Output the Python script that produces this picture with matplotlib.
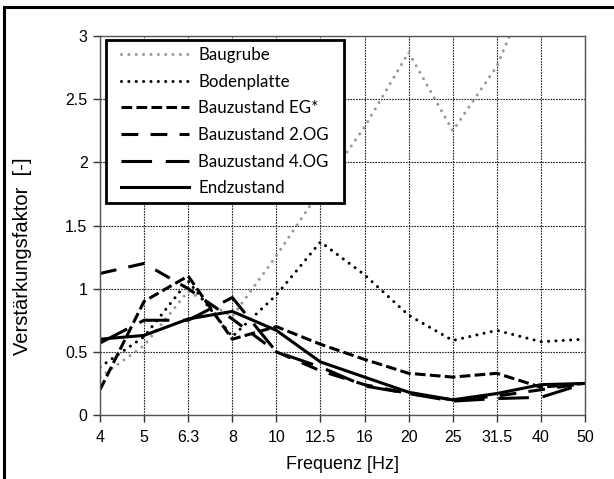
import matplotlib
matplotlib.use("Agg")
import matplotlib.pyplot as plt
from matplotlib.patches import Rectangle

# Frequenzbaender (kategorisch, gleichabstaendig)
freq_labels = ["4", "5", "6.3", "8", "10", "12.5", "16", "20", "25", "31.5", "40", "50"]

# Verstaerkungsfaktoren
baugrube = [0.30, 0.55, 0.98, 0.78, 1.26, 1.78, 2.28, 2.87, 2.25, 2.76, 3.60, 3.60]
bodenplatte = [0.38, 0.62, 1.06, 0.62, 0.95, 1.37, 1.11, 0.79, 0.59, 0.67, 0.58, 0.60]
eg = [0.20, 0.90, 1.10, 0.60, 0.70, 0.56, 0.44, 0.33, 0.30, 0.33, 0.22, 0.25]
og2 = [1.12, 1.20, 1.00, 0.76, 0.50, 0.35, 0.24, 0.17, 0.12, 0.15, 0.20, 0.25]
og4 = [0.57, 0.75, 0.75, 0.93, 0.50, 0.38, 0.23, 0.17, 0.11, 0.13, 0.14, 0.25]
endzustand = [0.60, 0.63, 0.76, 0.82, 0.67, 0.42, 0.30, 0.18, 0.12, 0.17, 0.24, 0.25]

plt.rcParams['font.family'] = ['Liberation Sans', 'DejaVu Sans']

fig = plt.figure(figsize=(6.14, 4.79), dpi=100)
ax = fig.add_axes([100/614, 1-415/479, 485/614, 379/479])

x = list(range(len(freq_labels)))

ax.plot(x, baugrube, color='#9a9a9a', lw=2.2, linestyle=(0, (0.01, 2.4)),
        dash_capstyle='round', label='Baugrube')
ax.plot(x, bodenplatte, color='black', lw=2.2, linestyle=(0, (0.01, 2.4)),
        dash_capstyle='round', label='Bodenplatte')
ax.plot(x, eg, color='black', lw=2.2, linestyle=(0, (3.5, 1.4)), label='Bauzustand EG*')
ax.plot(x, og2, color='black', lw=2.2, linestyle=(0, (5.5, 4)), label='Bauzustand 2.OG')
ax.plot(x, og4, color='black', lw=2.2, linestyle=(0, (10, 4.5)), label='Bauzustand 4.OG')
ax.plot(x, endzustand, color='black', lw=2.2, label='Endzustand')

ax.set_xlim(0, len(freq_labels) - 1)
ax.set_ylim(0, 3)
ax.set_xticks(x)
ax.set_xticklabels(freq_labels)
ax.set_yticks([0, 0.5, 1, 1.5, 2, 2.5, 3])
ax.set_yticklabels(["0", "0.5", "1", "1.5", "2", "2.5", "3"])
ax.tick_params(labelsize=11.5, length=5, width=1, color='#333333')
ax.tick_params(axis='x', pad=6)
ax.tick_params(axis='y', pad=4)

ax.grid(True, color='#222222', lw=0.8, linestyle=(0, (1.5, 1)))
for s in ax.spines.values():
    s.set_color('#555555')
    s.set_linewidth(1)

ax.set_xlabel('Frequenz [Hz]', fontsize=13, labelpad=8)
ax.set_ylabel('Verstärkungsfaktor  [-]', fontsize=14.5)
ax.yaxis.set_label_coords(-0.14, 0.42)

# Legendenrahmen separat, Inhalt ohne Rahmen
ax.add_patch(Rectangle((106/614, 1-203/479), 238/614, 163/479, transform=fig.transFigure,
                       facecolor='white', edgecolor='black', lw=2, zorder=4, clip_on=False))
leg = ax.legend(loc='upper left', bbox_to_anchor=(121/614, 1-47/479),
                bbox_transform=fig.transFigure, borderaxespad=0, borderpad=0,
                frameon=False, prop={'family': 'Lato', 'size': 12.2},
                handlelength=4.0, handletextpad=0.55, labelspacing=0.63)
leg.set_zorder(5)

# Rahmen um die Grafik (rechts und unten abgeschnitten)
fig.add_artist(Rectangle((4/614, -0.5), 2, 0.5 + (1 - 7/479), transform=fig.transFigure,
                         fill=False, edgecolor='black', lw=2.2, clip_on=False))

plt.savefig('out.png', dpi=100)
